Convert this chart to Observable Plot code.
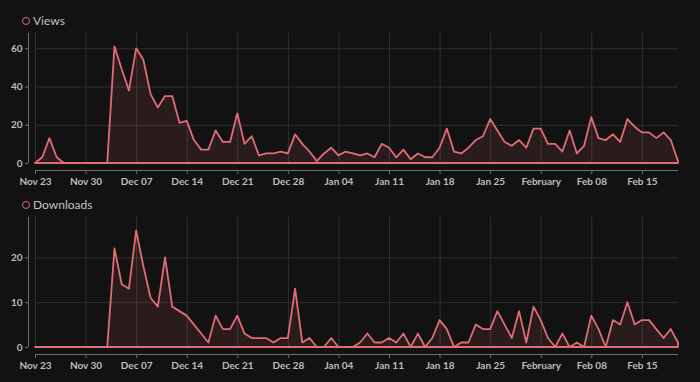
<!DOCTYPE html>
<html><head><meta charset="utf-8">
<script src="https://cdn.jsdelivr.net/npm/d3@7"></script>
<script src="https://cdn.jsdelivr.net/npm/@observablehq/plot@0.6"></script>
<style>
html,body{margin:0;padding:0;background:#121212;}
body{width:700px;height:382px;overflow:hidden;font-family:Lato,"Noto Sans",sans-serif;}
.legend{display:flex;align-items:center;color:#c4c4c4;font-size:12px;padding-left:22px;box-sizing:border-box;line-height:14px;}
.legend .dot{width:6px;height:6px;border:1.8px solid #e06c75;border-radius:50%;margin-right:3px;flex:none;}
svg{display:block;}
</style></head><body>
<div class="legend" id="l1" style="height:28px;padding-top:14px;"></div>
<div id="c1"></div>
<div class="legend" id="l2" style="height:20px;padding-top:6px;"></div>
<div id="c2"></div>
<script>
const startDate = "2014-11-23";
const seriesNames = ["Views", "Downloads"];
const views = [0,3,13,3,0,0,0,0,0,0,
  0,61,49,38,60,54,36,29,35,35,
  21,22,12,7,7,17,11,11,26,10,
  14,4,5,5,6,5,15,10,6,1,
  5,8,4,6,5,4,5,3,10,8,
  3,7,2,5,3,3,8,18,6,5,
  8,12,14,23,17,11,9,12,8,18,
  18,10,10,6,17,5,9,24,13,12,
  15,11,23,19,16,16,13,16,12,1];
const downloads = [0,0,0,0,0,0,0,0,0,0,
  0,22,14,13,26,18,11,9,20,9,
  8,7,5,3,1,7,4,4,7,3,
  2,2,2,1,2,2,13,1,2,0,
  0,2,0,0,0,1,3,1,1,2,
  1,3,0,3,0,2,6,4,0,1,
  1,5,4,4,8,5,2,8,1,9,
  6,2,0,3,0,1,0,7,4,0,
  6,5,10,5,6,6,4,2,4,1];
const tickDates = ["2014-11-23","2014-11-30","2014-12-07","2014-12-14","2014-12-21","2014-12-28","2015-01-04","2015-01-11","2015-01-18","2015-01-25","2015-02-01","2015-02-08","2015-02-15"];
const tickLabels = ["Nov 23","Nov 30","Dec 07","Dec 14","Dec 21","Dec 28","Jan 04","Jan 11","Jan 18","Jan 25","February","Feb 08","Feb 15"];
const viewsTicks = [0, 20, 40, 60];
const downloadsTicks = [0, 10, 20];
const viewsMax = 68;
const downloadsMax = 29;

const lineColor = "#e06c75";
const ticks = tickDates.map(d => new Date(d + "T00:00:00Z"));
const labelOf = new Map(ticks.map((t, i) => [+t, tickLabels[i]]));

function legend(id, name) {
  const el = document.getElementById(id);
  el.innerHTML = `<span class="dot"></span><span>${name}</span>`;
}

function chart(values, yMax, yTicks, o) {
  const start = new Date(startDate + "T00:00:00Z");
  const data = values.map((v, i) => ({date: d3.utcDay.offset(start, i), value: v}));
  const first = data[0].date, last = data[data.length - 1].date;
  return Plot.plot({
    width: 700, height: o.height,
    marginLeft: 35, marginRight: 22, marginTop: o.mt, marginBottom: o.mb,
    style: {background: "transparent", color: "#bdbdbd", fontFamily: "Lato, 'Noto Sans', sans-serif", fontSize: "10px", fontWeight: "bold"},
    x: {type: "utc", domain: [first, last], label: null},
    y: {domain: [0, yMax], label: null},
    marks: [
      Plot.gridX(ticks, {stroke: "#303030", strokeOpacity: 1}),
      Plot.gridY(yTicks, {stroke: "#303030", strokeOpacity: 1}),
      Plot.areaY(data, {x: "date", y: "value", fill: lineColor, fillOpacity: 0.12, stroke: lineColor, strokeWidth: 1.8, strokeLinejoin: "round"}),
      Plot.ruleY([0], {dy: 7, stroke: "#6e6e6e"}),
      Plot.ruleX([first], {dx: -7, y1: 0, y2: yMax, stroke: "#6e6e6e"}),
      Plot.axisX(ticks, {dy: 7, tickSize: 4, tickPadding: 3, stroke: "#6e6e6e", fill: "#bdbdbd", tickFormat: d => labelOf.get(+d), label: null}),
      Plot.axisY(yTicks, {dx: -7, tickSize: 3, tickPadding: 3, stroke: "#6e6e6e", fill: "#bdbdbd", label: null})
    ]
  });
}

legend("l1", seriesNames[0]);
legend("l2", seriesNames[1]);
document.getElementById("c1").append(chart(views, viewsMax, viewsTicks, {height: 164, mt: 5, mb: 29}));
document.getElementById("c2").append(chart(downloads, downloadsMax, downloadsTicks, {height: 170, mt: 5, mb: 35}));
</script>
</body></html>
